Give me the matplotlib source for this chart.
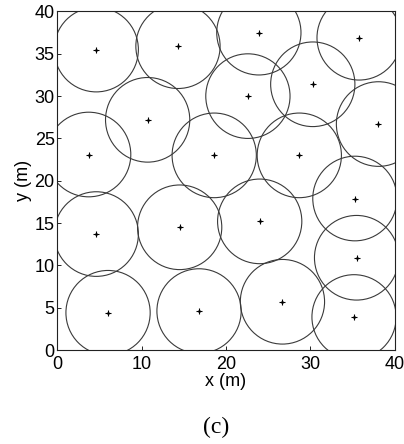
import numpy as np
import matplotlib.pyplot as plt
from matplotlib.patches import Circle

# node positions (m)
node_x = [4.6, 14.3, 23.9, 35.8, 30.3, 22.6, 10.7, 3.7, 18.6, 28.7,
          38.1, 35.3, 35.5, 35.2, 26.7, 24.0, 14.5, 4.6, 6.0, 16.8]
node_y = [35.5, 35.9, 37.5, 36.9, 31.4, 30.0, 27.2, 23.1, 23.0, 23.0,
          26.7, 17.9, 10.9, 3.9, 5.7, 15.2, 14.5, 13.7, 4.4, 4.6]
radius = 5.0

ticks = [0, 5, 10, 15, 20, 25, 30, 35, 40]

plt.rcParams['font.family'] = ['Liberation Sans', 'DejaVu Sans']

fig = plt.figure(figsize=(4.04, 4.44), dpi=100)
ax = fig.add_axes([57.5 / 404, 1 - 350 / 444, 337 / 404, 338.5 / 444])

for cx, cy in zip(node_x, node_y):
    ax.add_patch(Circle((cx, cy), radius, fill=False, edgecolor='#3a3a3a', linewidth=0.8))

# MATLAB-like small star marker: a plus with a dot
ax.plot(node_x, node_y, '+', color='black', markersize=5, markeredgewidth=0.8)
ax.plot(node_x, node_y, 'o', color='black', markersize=2, markeredgewidth=0)

ax.set_xlim(0, 40)
ax.set_ylim(0, 40)
ax.set_xticks([0, 10, 20, 30, 40])
ax.set_yticks(ticks)
ax.tick_params(direction='in', length=3, labelsize=13, width=0.6)
ax.tick_params(axis='x', pad=4)
ax.tick_params(axis='y', pad=2)
for s in ax.spines.values():
    s.set_linewidth(0.8)
    s.set_color('#222222')

ax.set_xlabel('x (m)', fontsize=13, labelpad=0)
ax.set_ylabel('y (m)', fontsize=13, labelpad=2)

fig.text(216 / 404, 1 - 427 / 444, '(c)', fontsize=17, ha='center', va='center',
         family=['Liberation Serif', 'DejaVu Serif'])

fig.savefig('out.png', dpi=100)
